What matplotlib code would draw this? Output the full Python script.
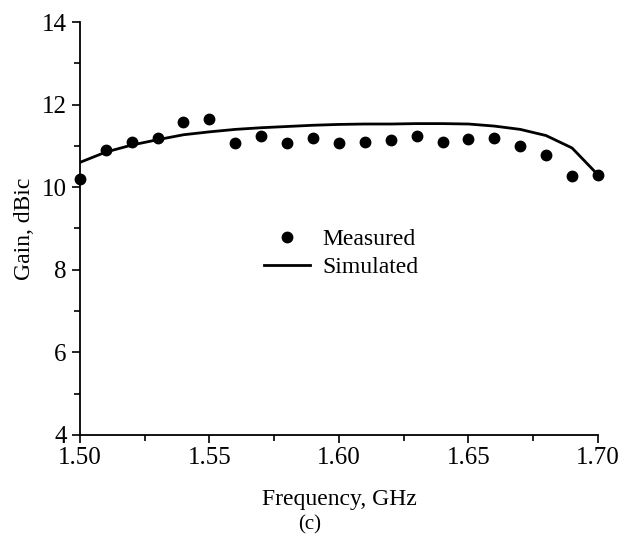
import numpy as np
import matplotlib
matplotlib.use("Agg")
import matplotlib.pyplot as plt
from matplotlib.ticker import MultipleLocator

plt.rcParams['font.family'] = ['Liberation Serif', 'DejaVu Serif']

freq = [1.50, 1.51, 1.52, 1.53, 1.54, 1.55, 1.56, 1.57, 1.58, 1.59, 1.60,
        1.61, 1.62, 1.63, 1.64, 1.65, 1.66, 1.67, 1.68, 1.69, 1.70]
measured = [10.2, 10.9, 11.1, 11.2, 11.58, 11.65, 11.08, 11.24, 11.06, 11.2, 11.08,
            11.1, 11.14, 11.25, 11.1, 11.16, 11.2, 11.0, 10.78, 10.27, 10.3]
simulated = [10.6, 10.85, 11.02, 11.15, 11.27, 11.34, 11.4, 11.44, 11.47, 11.5, 11.52,
             11.53, 11.53, 11.54, 11.54, 11.53, 11.48, 11.4, 11.25, 10.95, 10.3]

fig = plt.figure(figsize=(6.19, 5.37), dpi=100)
ax = fig.add_axes([0.129, 0.19, 0.837, 0.769])

ax.plot(freq, simulated, color='black', lw=2, label='Simulated')
ax.plot(freq, measured, 'o', color='black', ms=7.5, label='Measured', clip_on=False)

ax.set_xlim(1.50, 1.70)
ax.set_ylim(4, 14)
ax.xaxis.set_major_locator(MultipleLocator(0.05))
ax.xaxis.set_minor_locator(MultipleLocator(0.025))
ax.yaxis.set_major_locator(MultipleLocator(2))
ax.yaxis.set_minor_locator(MultipleLocator(1))
ax.xaxis.set_major_formatter(plt.FormatStrFormatter('%.2f'))
ax.spines['top'].set_visible(False)
ax.spines['right'].set_visible(False)
ax.spines['left'].set_linewidth(1.3)
ax.spines['bottom'].set_linewidth(1.3)
ax.tick_params(which='major', direction='out', length=6, width=1.2, labelsize=18)
ax.tick_params(axis='x', which='major', pad=3)
ax.tick_params(which='minor', direction='out', length=4, width=1.2)

ax.set_xlabel('Frequency, GHz', fontsize=17, labelpad=14)
ax.set_ylabel('Gain, dBic', fontsize=17, labelpad=5)

h, l = ax.get_legend_handles_labels()
ax.legend(h[::-1], l[::-1], loc='upper left', bbox_to_anchor=(0.315, 0.552), frameon=False,
          fontsize=17, handlelength=1.95, labelspacing=0.3, handletextpad=0.5)

fig.text(0.5, 0.005, '(c)', ha='center', va='bottom', fontsize=15)
fig.text(0.505, 1.018, '(c)', ha='center', va='center', fontsize=15)

fig.savefig('out.png', dpi=100)
